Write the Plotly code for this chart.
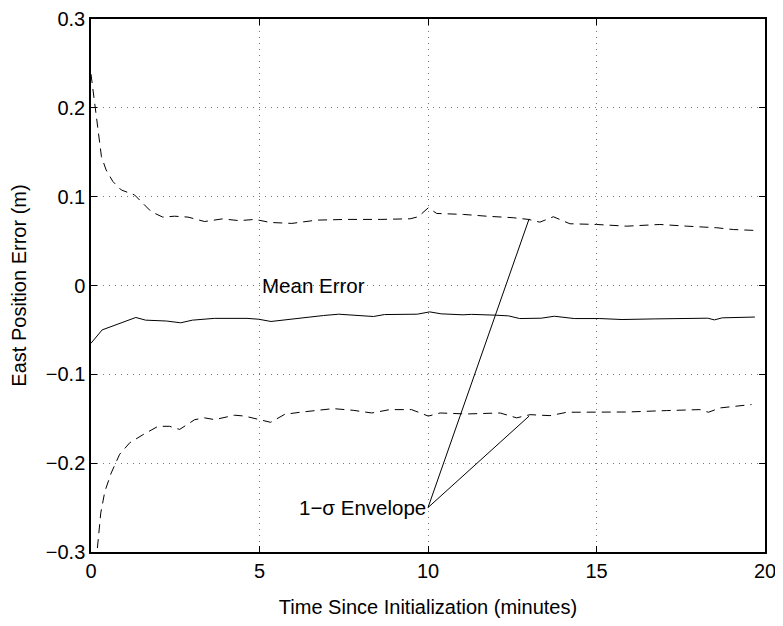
import plotly.graph_objects as go

# mean error (m) vs time (minutes)
mean_t = [0.0, 0.33, 1.33, 1.62, 2.24, 2.66, 3.01, 3.66, 4.63, 4.98, 5.34, 5.99, 6.51,
          6.90, 7.35, 7.80, 8.38, 8.71, 9.68, 10.05, 10.39, 11.04, 11.29, 12.0, 12.39,
          12.72, 13.36, 13.75, 14.34, 15.1, 15.76, 16.73, 18.0, 18.3, 18.5, 18.73, 19.7]
mean_err = [-0.065, -0.050, -0.036, -0.039, -0.040, -0.042, -0.039, -0.037, -0.037,
            -0.038, -0.0405, -0.0376, -0.0349, -0.0338, -0.0323, -0.0334, -0.0349,
            -0.0327, -0.0323, -0.0297, -0.0319, -0.033, -0.0325, -0.0334, -0.0342,
            -0.0372, -0.0368, -0.0346, -0.0372, -0.0372, -0.0383, -0.0376, -0.0372,
            -0.0368, -0.0387, -0.0364, -0.0355]

# upper 1-sigma envelope
upper_t = [0.0, 0.13, 0.21, 0.31, 0.45, 0.65, 0.9, 1.29, 1.79, 2.13, 2.48, 2.88, 3.37,
           3.9, 4.4, 4.87, 5.31, 5.96, 6.70, 7.59, 8.58, 9.47, 9.71, 10.01, 10.26,
           11.05, 11.74, 12.53, 12.98, 13.32, 13.47, 13.72, 14.21, 15.0, 15.9, 16.88,
           17.68, 18.57, 19.06, 19.7]
upper_err = [0.238, 0.2, 0.1755, 0.145, 0.130, 0.117, 0.1075, 0.102, 0.083, 0.077,
             0.078, 0.077, 0.072, 0.075, 0.073, 0.0744, 0.071, 0.0699, 0.0736, 0.0744,
             0.0744, 0.0751, 0.0774, 0.0875, 0.0811, 0.080, 0.078, 0.0763, 0.0744,
             0.0713, 0.0736, 0.0774, 0.0695, 0.0687, 0.0668, 0.0687, 0.0668, 0.065,
             0.063, 0.062]

# lower 1-sigma envelope
lower_t = [0.19, 0.29, 0.41, 0.60, 0.85, 1.15, 1.54, 1.99, 2.33, 2.63, 3.08, 3.37,
           3.67, 4.26, 4.56, 4.96, 5.33, 5.75, 6.2, 7.19, 7.78, 8.33, 8.87, 9.51,
           10.01, 10.36, 11.15, 12.14, 12.63, 13.03, 13.62, 14.12, 15.0, 15.9, 17.08,
           18.07, 18.32, 18.67, 19.6]
lower_err = [-0.2956, -0.256, -0.232, -0.211, -0.190, -0.177, -0.168, -0.1585,
             -0.1585, -0.162, -0.151, -0.149, -0.151, -0.146, -0.147, -0.151, -0.154,
             -0.145, -0.1427, -0.1386, -0.1405, -0.1435, -0.1397, -0.1397, -0.147,
             -0.1435, -0.1446, -0.1435, -0.149, -0.1454, -0.1465, -0.1427, -0.1427,
             -0.1424, -0.1408, -0.1397, -0.1427, -0.1378, -0.134]

# pointer lines for the envelope label
pointer_t = [13.0, 10.0, 13.0]
pointer_y = [0.075, -0.25, -0.147]

FONT = "Liberation Sans, Arial, Helvetica, sans-serif"
FS = 20

fig = go.Figure()
fig.add_trace(go.Scatter(x=upper_t, y=upper_err, mode="lines",
                         line=dict(color="black", width=1, dash="9px,6px")))
fig.add_trace(go.Scatter(x=lower_t, y=lower_err, mode="lines",
                         line=dict(color="black", width=1, dash="9px,6px")))
fig.add_trace(go.Scatter(x=mean_t, y=mean_err, mode="lines",
                         line=dict(color="black", width=1)))
fig.add_trace(go.Scatter(x=pointer_t, y=pointer_y, mode="lines",
                         line=dict(color="black", width=1)))

fig.add_annotation(x=5.0, y=0.0, text="Mean Error", showarrow=False,
                   xanchor="left", yanchor="middle", font=dict(size=20.5))
fig.add_annotation(x=10.0, y=-0.25, text="1\u2212\u03c3 Envelope", showarrow=False,
                   xanchor="right", yanchor="middle", font=dict(size=20.5))

axis_common = dict(
    showline=True, linecolor="black", linewidth=1.5, mirror="ticks",
    ticks="inside", ticklen=6, tickcolor="black", tickwidth=1,
    showgrid=True, gridcolor="#777", gridwidth=1, griddash="1px,5px",
    zeroline=False, tickfont=dict(size=FS, color="black"), automargin=False,
    ticklabeloverflow="allow",
)

fig.update_xaxes(range=[0, 20], tickvals=[0, 5, 10, 15, 20],
                 title=dict(text="Time Since Initialization (minutes)",
                            font=dict(size=FS, color="black"), standoff=20),
                 **axis_common)
fig.update_yaxes(range=[-0.3, 0.3], tickvals=[-0.3, -0.2, -0.1, 0, 0.1, 0.2, 0.3],
                 ticktext=["\u22120.3", "\u22120.2", "\u22120.1", "0", "0.1", "0.2", "0.3"],
                 title=dict(text="East Position Error (m)",
                            font=dict(size=FS, color="black"), standoff=19),
                 **axis_common)

# the page body adds an 8px offset, so the figure is sized to compensate
fig.update_layout(
    width=767, height=610,
    margin=dict(l=83, r=10, t=11, b=66),
    paper_bgcolor="white", plot_bgcolor="white",
    showlegend=False,
    font=dict(family=FONT, color="black"),
)

fig.write_html("out.html")
